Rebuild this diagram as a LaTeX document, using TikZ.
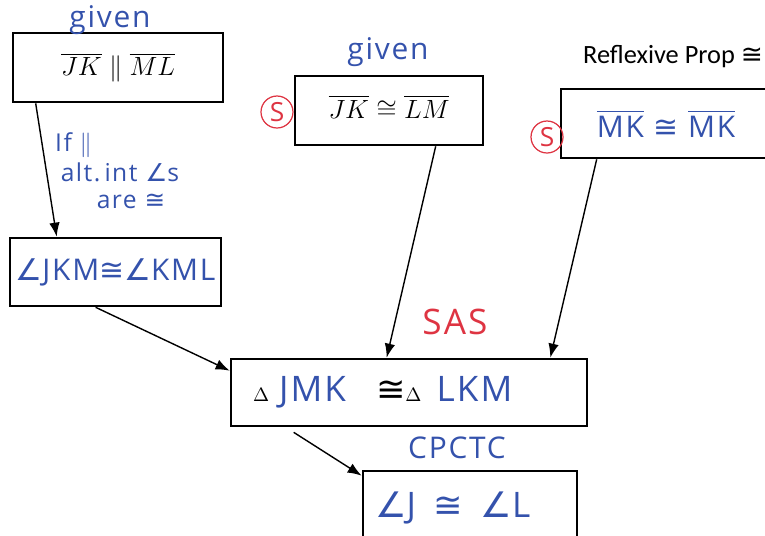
\RequirePackage{fix-cm}
\documentclass[tikz,border=0pt]{standalone}
\usepackage{amsmath}
\usepackage{fontspec}
\usepackage{xcolor}
\usetikzlibrary{arrows.meta}
\newfontfamily\handfont{Open Sans}[LetterSpace=6]
\newfontfamily\printfont{Carlito}
\newfontfamily\symfont{DejaVu Sans}
\newcommand\angsym{{\symfont ∠}}
\newcommand\congsym{{\symfont ≅}}
\definecolor{inkblue}{RGB}{52,82,172}
\definecolor{inkred}{RGB}{222,52,66}

\begin{document}
\begin{tikzpicture}[
    stmt/.style={draw, line width=1.5pt, minimum height=1.38cm, inner sep=0pt},
    link/.style={-{Latex[length=8pt,width=6pt]}, line width=0.8pt},
    sbox/.style={circle, draw=inkred, text=inkred, line width=0.7pt, inner sep=0pt,
        minimum size=0.64cm, font=\handfont\fontsize{15}{15}\selectfont},
    hand/.style={text=inkblue, font=\handfont\fontsize{#1}{#1}\selectfont}
]
    \useasboundingbox (0,0) rectangle (15.3,-10.7);

    % statements
    \node[stmt, minimum width=4.2cm] (par) at (2.36,-1.35)
        {\fontsize{15}{18}\selectfont\raisebox{0.06cm}{$\overline{JK}\parallel\overline{ML}$}};
    \node[stmt, minimum width=3.76cm] (seg) at (7.78,-2.21)
        {\fontsize{15}{18}\selectfont\raisebox{0.16cm}{$\overline{JK}\cong\overline{LM}$}};
    \node[stmt, minimum width=4.2cm, hand=17] (refl) at (13.32,-2.47)
        {$\overline{\hbox{MK}}$ \congsym{} $\overline{\hbox{MK}}$};
    \node[stmt, minimum width=4.22cm, minimum height=1.36cm, hand=17] (ang) at (2.31,-5.44)
        {\angsym JKM\congsym\angsym KML};
    \node[stmt, minimum width=7.12cm, minimum height=1.34cm, text width=6.24cm, align=left,
        font=\handfont\fontsize{20}{20}\selectfont] (tri) at (8.18,-7.85)
        {{\fontsize{11}{11}\selectfont$\Delta$}\hspace{0.2cm}\textcolor{inkblue}{JMK}\hspace{0.6cm}\congsym{\fontsize{11}{11}\selectfont$\Delta$}\hspace{0.3cm}\textcolor{inkblue}{LKM}};
    \node[stmt, minimum width=4.28cm, minimum height=1.48cm, text width=3.8cm, align=left, hand=20] (cpc) at (9.4,-10.16)
        {\angsym J\enspace\congsym\enspace\angsym L};

    % reasons
    \node[hand=17] (given1) at (2.2,-0.4) {given};
    \node[hand=17] (given2) at (7.76,-1.04) {given};
    \node[anchor=west, font=\printfont\fontsize{15}{18}\selectfont] (reflex) at (11.54,-1.14) {Reflexive Prop \congsym};
    \node[sbox] (side1) at (5.54,-2.24) {S};
    \node[sbox] (side2) at (10.94,-2.74) {S};
    \node[hand=14, anchor=west] (ifpar) at (0.98,-2.9) {If $\parallel$};
    \node[hand=14] (altint) at (2.4,-3.44) {alt.\,int \angsym s};
    \node[hand=14] (arecong) at (2.62,-4.02) {are \congsym};
    \node[text=inkred, font=\handfont\fontsize{20}{20}\selectfont] (sas) at (9.1,-6.44) {SAS};
    \node[hand=17] (cpctc) at (9.14,-8.96) {CPCTC};

    % arrows
    \draw[link] ([xshift=0.48cm]par.south west) -- ([xshift=0.96cm]ang.north west);
    \draw[link] ([xshift=2.84cm]seg.south west) -- ([xshift=3.14cm]tri.north west);
    \draw[link] ([xshift=0.74cm]refl.south west) -- ([xshift=-0.76cm]tri.north east);
    \draw[link] ([xshift=1.74cm]ang.south west) -- ([yshift=-0.26cm]tri.north west);
    \draw[link] ([xshift=1.28cm,yshift=-0.1cm]tri.south west) -- ([yshift=-0.12cm]cpc.north west);
\end{tikzpicture}
\end{document}
